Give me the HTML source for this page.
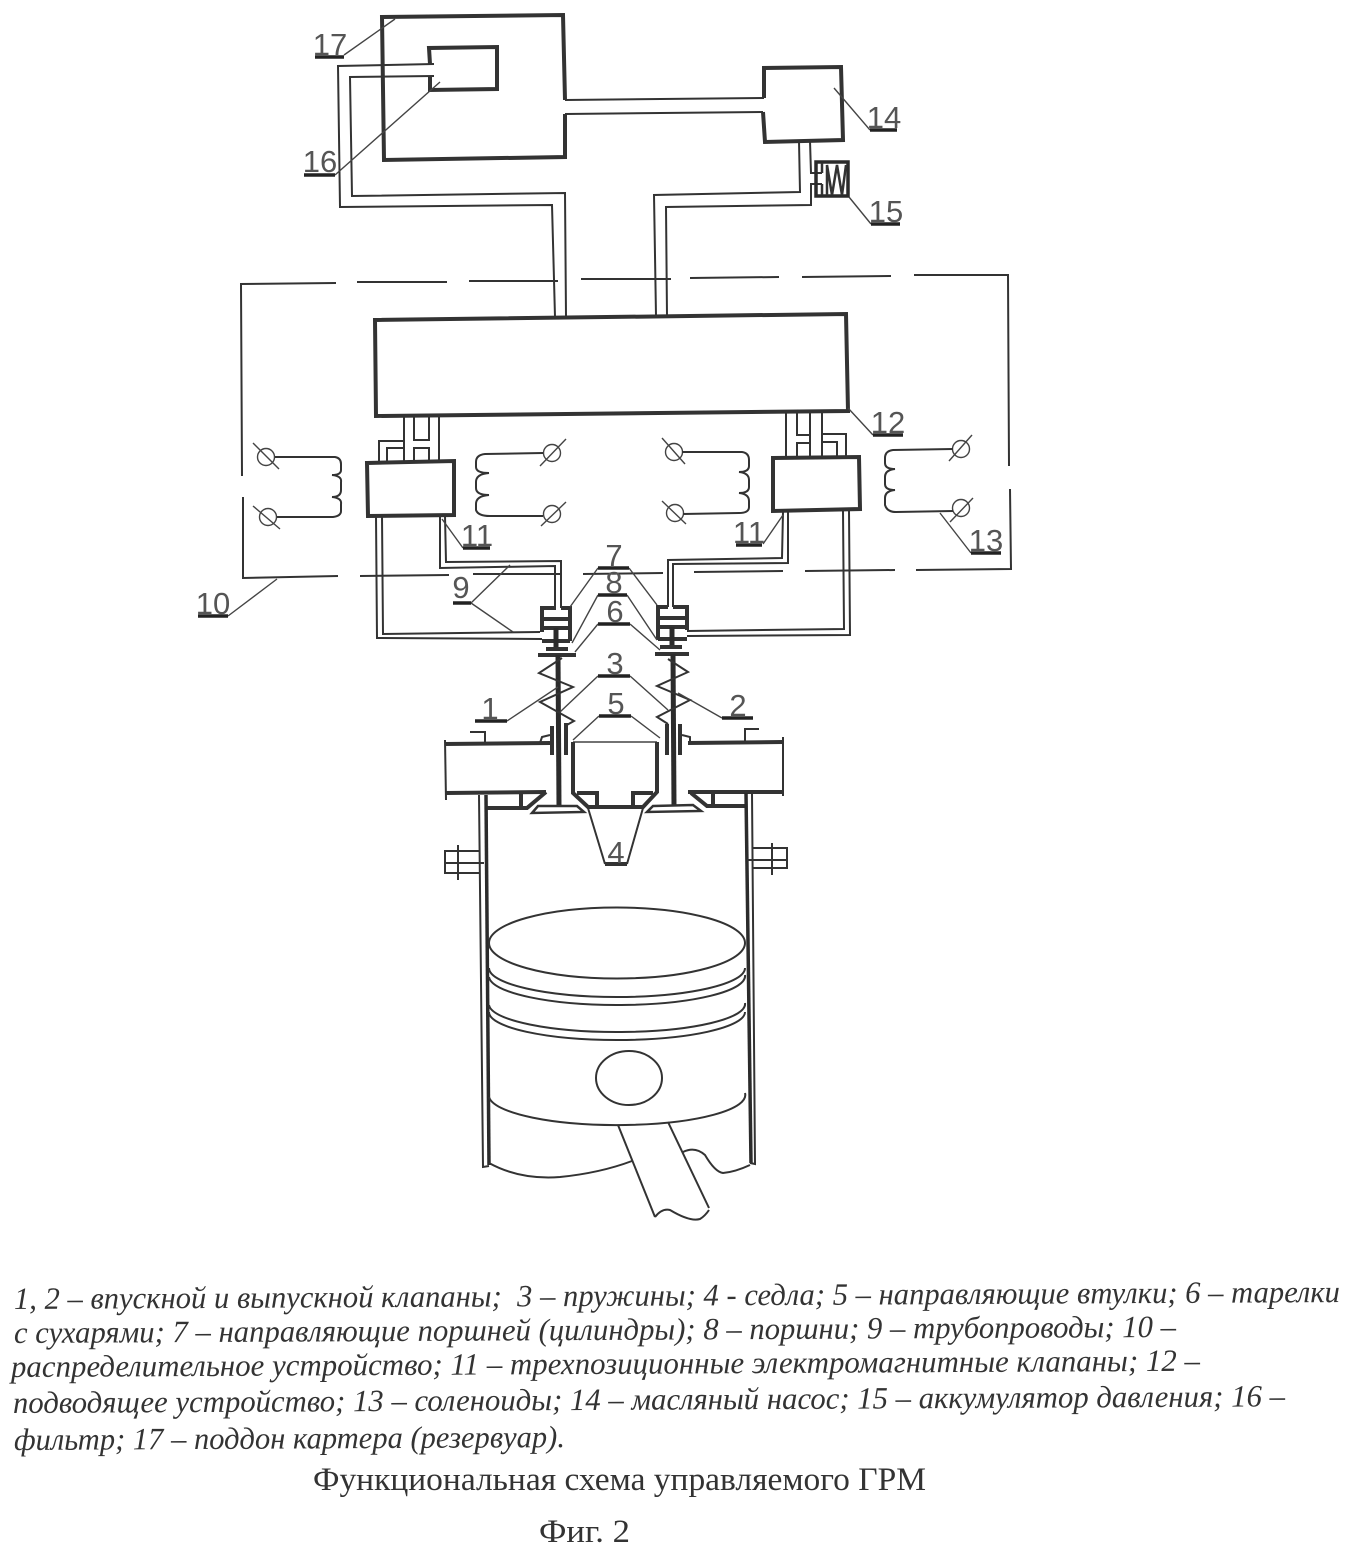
<!DOCTYPE html>
<html lang="ru"><head><meta charset="utf-8"><title>Функциональная схема управляемого ГРМ</title>
<style>
html,body{margin:0;padding:0;background:#fff;width:1352px;height:1555px;overflow:hidden}
svg{display:block}
.t{fill:none;stroke:#444;stroke-width:1.4}
.m{fill:none;stroke:#333;stroke-width:2}
.k{fill:none;stroke:#333;stroke-width:4}
.h{fill:none;stroke:#2b2b2b;stroke-width:5}
.u{fill:none;stroke:#222;stroke-width:3.5}
.n{font-family:"Liberation Sans",sans-serif;font-size:31px;fill:#555;text-anchor:middle;font-weight:normal}
.i{font-family:"Liberation Serif",serif;font-style:italic;font-size:31px;fill:#333}
.c{font-family:"Liberation Serif",serif;font-size:33px;fill:#333}
</style></head><body>
<svg width="1352" height="1555" viewBox="0 0 1352 1555" xmlns="http://www.w3.org/2000/svg">
<rect width="1352" height="1555" fill="#fff"/>

<!-- reservoir 17, filter 16, pump 14 -->
<polyline class="k" points="565,100 563,15 382,17 384,160 565,157 565,114"/>
<polyline class="k" points="430,64 429,48 497,47 497,89 430,90 430,76"/>
<polyline class="k" points="764,98 764,68 841,67 843,140 765,142 763,112"/>
<polyline class="m" points="565,100 764,98"/>
<polyline class="m" points="565,114 763,112"/>
<!-- suction pipe -->
<polyline class="m" points="434,64 338,66 340,207 552,205 555,317"/>
<polyline class="m" points="434,76 350,77 352,196 565,193 566,316"/>
<!-- pressure pipe -->
<polyline class="m" points="799,141 800,192 654,195 656,316"/>
<polyline class="m" points="810,141 811,173 822,173"/>
<polyline class="m" points="822,184 811,184 811,205 666,207 667,316"/>
<!-- accumulator 15 -->
<rect x="816" y="162" width="32" height="34" fill="none" stroke="#2b2b2b" stroke-width="3.5"/>
<polyline fill="none" stroke="#333" stroke-width="2.5" points="822,163 822,173"/>
<polyline fill="none" stroke="#333" stroke-width="2.5" points="822,184 822,195"/>
<polyline fill="none" stroke="#333" stroke-width="2.5" points="827,195 827,165 832,195 837,165 842,195 846,165"/>

<!-- dashed distributor 10 -->
<g class="m" fill="none">
<polyline class="m" points="336,283 241,284 242,476"/>
<polyline class="m" points="243,497 243,578 338,576"/>
<line class="m" x1="357" y1="282" x2="447" y2="282"/>
<line class="m" x1="469" y1="281" x2="558" y2="281"/>
<line class="m" x1="581" y1="279" x2="671" y2="279"/>
<line class="m" x1="690" y1="278" x2="779" y2="277"/>
<line class="m" x1="802" y1="277" x2="891" y2="276"/>
<polyline class="m" points="914,275 1008,275 1009,466"/>
<polyline class="m" points="1010,489 1011,569 916,570"/>
<line class="m" x1="895" y1="570" x2="805" y2="571"/>
<line class="m" x1="783" y1="571" x2="694" y2="572"/>
<line class="m" x1="663" y1="573" x2="583" y2="574"/>
<line class="m" x1="561" y1="574" x2="473" y2="574"/>
<line class="m" x1="449" y1="575" x2="360" y2="576"/>
</g>

<!-- box 12 -->
<polygon class="k" points="375,320 846,314 848,411 376,416"/>

<!-- left valve 11 and its pipes -->
<polygon class="k" points="367,463 454,461 454,515 368,516"/>
<polyline class="m" points="404,416 404,462"/>
<polyline class="m" points="414,416 414,440 429,440 429,416"/>
<polyline class="m" points="414,462 414,448 429,448 429,462"/>
<polyline class="m" points="439,416 439,462"/>
<polyline class="m" points="404,441 379,441 379,462"/>
<polyline class="m" points="404,448 387,448 387,462"/>
<polyline class="m" points="376,516 377,638 542,639"/>
<polyline class="m" points="382,516 383,634 540,632"/>
<polyline class="m" points="440,516 440,568 555,566 555,608"/>
<polyline class="m" points="445,516 446,562 561,561 561,608"/>

<!-- right valve 11 and its pipes -->
<polygon class="k" points="773,458 859,457 860,509 773,511"/>
<polyline class="m" points="786,413 786,457"/>
<polyline class="m" points="797,413 797,435 810,435"/>
<polyline class="m" points="797,457 797,443 810,443"/>
<polyline class="m" points="810,413 810,457"/>
<polyline class="m" points="822,412 822,457"/>
<polyline class="m" points="822,434 846,434 846,456"/>
<polyline class="m" points="822,442 837,442 837,456"/>
<polyline class="m" points="783,512 782,558 668,560 668,607"/>
<polyline class="m" points="788,512 788,563 673,564 673,607"/>
<polyline class="m" points="843,511 844,629 687,631"/>
<polyline class="m" points="849,511 850,635 687,636"/>

<!-- coils -->
<g>
<circle class="t" cx="266" cy="457" r="8.5"/><line class="t" x1="253" y1="443" x2="279" y2="469"/>
<circle class="t" cx="268" cy="517" r="8.5"/><line class="t" x1="253" y1="506" x2="280" y2="529"/>
<path class="m" d="M275,457 H335 Q341,458 341,464 V470 Q341,475 332,475 Q342,476 341,482 V490 Q341,497 332,497 Q342,498 341,504 V511 Q341,516 333,517 H277"/>
<circle class="t" cx="552" cy="453" r="8.5"/><line class="t" x1="566" y1="439" x2="540" y2="466"/>
<circle class="t" cx="552" cy="514" r="8.5"/><line class="t" x1="566" y1="502" x2="541" y2="526"/>
<path class="m" d="M543,453 L485,454 Q476,455 476,462 V467 Q476,473 489,473 Q476,474 476,482 V488 Q476,495 489,495 Q476,496 476,504 V510 Q478,516 490,516 H543"/>
<circle class="t" cx="674" cy="452" r="8.5"/><line class="t" x1="662" y1="438" x2="685" y2="464"/>
<circle class="t" cx="675" cy="513" r="8.5"/><line class="t" x1="662" y1="501" x2="686" y2="524"/>
<path class="m" d="M682,452 H742 Q749,453 749,460 V466 Q749,472 739,472 Q749,473 749,480 V487 Q749,493 739,493 Q749,494 749,501 V507 Q749,513 739,513 L683,514"/>
<circle class="t" cx="961" cy="449" r="8.5"/><line class="t" x1="972" y1="435" x2="949" y2="461"/>
<circle class="t" cx="961" cy="508" r="8.5"/><line class="t" x1="973" y1="498" x2="950" y2="522"/>
<path class="m" d="M953,449 L893,450 Q885,451 885,458 V463 Q885,469 895,469 Q885,470 885,477 V484 Q885,490 895,490 Q885,491 885,498 V505 Q887,512 896,512 L953,511"/>
</g>

<!-- left actuator -->
<polyline class="k" points="556,608 542,608 542,632"/>
<polyline class="k" points="561,608 570,608 570,641"/>
<line class="k" x1="542" y1="619" x2="570" y2="619"/>
<line class="k" x1="542" y1="628" x2="570" y2="628"/>
<line class="k" x1="542" y1="641" x2="570" y2="641"/>
<line class="h" x1="556" y1="628" x2="556" y2="650"/>
<line class="k" x1="546" y1="649" x2="568" y2="649"/>
<line class="k" x1="538" y1="655" x2="576" y2="655"/>
<line class="h" x1="558" y1="655" x2="559" y2="806"/>
<polyline class="m" points="562,658 539,673 573,687 540,702 574,721 565,726"/>
<!-- right actuator -->
<polyline class="k" points="668,607 658,607 658,640"/>
<polyline class="k" points="673,607 687,607 687,630"/>
<line class="k" x1="658" y1="618" x2="687" y2="618"/>
<line class="k" x1="658" y1="627" x2="687" y2="627"/>
<line class="k" x1="658" y1="639" x2="687" y2="639"/>
<line class="h" x1="672" y1="627" x2="672" y2="648"/>
<line class="k" x1="660" y1="647" x2="682" y2="647"/>
<line class="k" x1="655" y1="654" x2="689" y2="654"/>
<line class="h" x1="673" y1="654" x2="674" y2="806"/>
<polyline class="m" points="668,659 688,672 657,686 690,700 657,717 668,724"/>
<!-- guides -->
<line class="k" x1="552" y1="726" x2="552" y2="755"/>
<line class="k" x1="566" y1="723" x2="566" y2="755"/>
<line class="k" x1="667" y1="724" x2="667" y2="755"/>
<line class="k" x1="680" y1="724" x2="680" y2="755"/>
<polyline class="m" points="540,743 542,737 550,735"/>
<polyline class="m" points="682,735 690,737 690,742"/>

<!-- cylinder head left -->
<polyline class="k" points="550,743 445,744"/>
<line class="m" x1="445" y1="740" x2="446" y2="800"/>
<line class="k" x1="446" y1="793" x2="546" y2="792"/>
<polyline class="k" points="546,792 527,808 486,808"/>
<line class="k" x1="521" y1="793" x2="521" y2="808"/>
<polyline class="m" points="470,732 485,732 485,744"/>
<!-- cylinder head right -->
<line class="k" x1="688" y1="743" x2="783" y2="742"/>
<line class="m" x1="783" y1="737" x2="783" y2="796"/>
<line class="k" x1="688" y1="792" x2="783" y2="792"/>
<polyline class="k" points="691,793 707,806 745,806"/>
<line class="k" x1="713" y1="793" x2="713" y2="806"/>
<polyline class="m" points="759,729 745,729 745,742"/>
<!-- centre block -->
<line class="t" x1="573" y1="742" x2="657" y2="742"/>
<polyline class="k" points="573,742 573,793 588,807 643,807 657,792 657,742"/>
<polyline class="k" points="577,793 597,793 597,807"/>
<polyline class="k" points="633,807 633,793 653,793"/>
<!-- valve heads -->
<polygon points="538,806 577,806 584,812 532,813" fill="#fff" stroke="#333" stroke-width="2.5"/>
<polygon points="653,806 693,805 701,811 647,812" fill="#fff" stroke="#333" stroke-width="2.5"/>
<!-- seat 4 -->
<polyline class="m" points="588,808 605,864"/>
<polyline class="m" points="643,808 627,864"/>
<line class="k" x1="605" y1="864" x2="627" y2="864"/>

<!-- cylinder walls -->
<polyline fill="none" stroke="#2b2b2b" stroke-width="3.5" points="486,795 489,1165"/>
<polyline class="m" points="479,795 483,1167 489,1166"/>
<polyline fill="none" stroke="#2b2b2b" stroke-width="3.5" points="746,793 751,1163"/>
<polyline class="m" points="752,793 755,1164 750,1163"/>
<!-- flanges -->
<polyline class="m" points="479,851 445,851 445,873 479,873"/>
<line class="m" x1="445" y1="863" x2="484" y2="863"/>
<line class="m" x1="458" y1="845" x2="458" y2="880"/>
<polyline class="m" points="752,848 787,848 787,868 752,868"/>
<line class="m" x1="747" y1="860" x2="787" y2="860"/>
<line class="m" x1="772" y1="843" x2="772" y2="875"/>

<!-- piston -->
<ellipse class="m" cx="617" cy="943" rx="128" ry="35.5"/>
<path class="m" d="M489,968 A128,29 0 0 0 745,968"/>
<path class="m" d="M489,977 A128,29 0 0 0 745,975"/>
<path class="m" d="M489,1005 A128,28 0 0 0 745,1003"/>
<path class="m" d="M489,1012 A128,28 0 0 0 745,1012"/>
<path class="m" d="M489,1097 A128,30 0 0 0 745,1093"/>
<ellipse class="m" cx="629" cy="1078" rx="33" ry="27"/>
<polyline class="m" points="618,1125 655,1217"/>
<polyline class="m" points="668,1122 709,1208"/>
<path class="m" d="M655,1217 Q662,1208 670,1210 Q690,1222 700,1219 Q705,1216 709,1210"/>
<path class="m" d="M489,1163 Q520,1180 560,1177 Q600,1173 632,1161"/>
<path class="m" d="M683,1152 Q695,1146 705,1155 Q715,1172 723,1173 Q735,1172 750,1165"/>

<!-- leaders -->
<g class="t">
<line x1="344" y1="55" x2="395" y2="19"/>
<line x1="335" y1="175" x2="440" y2="82"/>
<line x1="870" y1="130" x2="834" y2="88"/>
<line x1="871" y1="224" x2="849" y2="197"/>
<line x1="228" y1="616" x2="277" y2="579"/>
<line x1="471" y1="603" x2="510" y2="565"/>
<line x1="471" y1="603" x2="513" y2="632"/>
<line x1="463" y1="548" x2="442" y2="519"/>
<line x1="763" y1="544" x2="783" y2="515"/>
<line x1="873" y1="435" x2="848" y2="408"/>
<line x1="971" y1="553" x2="940" y2="513"/>
<line x1="507" y1="721" x2="558" y2="687"/>
<line x1="722" y1="718" x2="678" y2="693"/>
<line x1="598" y1="676" x2="560" y2="712"/>
<line x1="630" y1="676" x2="668" y2="710"/>
<line x1="599" y1="716" x2="573" y2="740"/>
<line x1="631" y1="716" x2="660" y2="738"/>
<line x1="598" y1="624" x2="575" y2="652"/>
<line x1="630" y1="624" x2="660" y2="650"/>
<line x1="598" y1="595" x2="572" y2="643"/>
<line x1="627" y1="595" x2="657" y2="640"/>
<line x1="598" y1="568" x2="570" y2="607"/>
<line x1="629" y1="568" x2="657" y2="605"/>
</g>

<!-- label underlines -->
<g class="u">
<line x1="315" y1="57" x2="344" y2="57"/>
<line x1="304" y1="175" x2="335" y2="175"/>
<line x1="870" y1="130" x2="897" y2="130"/>
<line x1="871" y1="224" x2="900" y2="224"/>
<line x1="198" y1="616" x2="228" y2="616"/>
<line x1="453" y1="603" x2="471" y2="603"/>
<line x1="463" y1="548" x2="490" y2="548"/>
<line x1="736" y1="545" x2="762" y2="545"/>
<line x1="873" y1="435" x2="903" y2="435"/>
<line x1="971" y1="553" x2="1001" y2="553"/>
<line x1="475" y1="721" x2="507" y2="721"/>
<line x1="722" y1="718" x2="753" y2="718"/>
<line x1="598" y1="676" x2="630" y2="676"/>
<line x1="599" y1="716" x2="631" y2="716"/>
<line x1="598" y1="624" x2="630" y2="624"/>
<line x1="598" y1="595" x2="627" y2="595"/>
<line x1="598" y1="568" x2="629" y2="568"/>
</g>

<!-- numeric labels -->
<text class="n" x="330" y="55">17</text>
<text class="n" x="320" y="172">16</text>
<text class="n" x="884" y="128">14</text>
<text class="n" x="886" y="222">15</text>
<text class="n" x="213" y="614">10</text>
<text class="n" x="461" y="598">9</text>
<text class="n" x="477" y="546">11</text>
<text class="n" x="749" y="543">11</text>
<text class="n" x="888" y="433">12</text>
<text class="n" x="986" y="551">13</text>
<text class="n" x="490" y="719">1</text>
<text class="n" x="738" y="716">2</text>
<text class="n" x="615" y="674">3</text>
<text class="n" x="616" y="714">5</text>
<text class="n" x="615" y="622">6</text>
<text class="n" x="614" y="593">8</text>
<text class="n" x="614" y="566">7</text>
<text class="n" x="616" y="863">4</text>

<!-- caption -->
<g transform="rotate(-0.3 14 1309)">
<text class="i" x="14" y="1309" textLength="1326" lengthAdjust="spacingAndGlyphs" xml:space="preserve">1, 2 – впускной и выпускной клапаны;  3 – пружины; 4 - седла; 5 – направляющие втулки; 6 – тарелки</text>
</g>
<g transform="rotate(-0.3 14 1343)">
<text class="i" x="14" y="1343" textLength="1162" lengthAdjust="spacingAndGlyphs">с сухарями; 7 – направляющие поршней (цилиндры); 8 – поршни; 9 – трубопроводы; 10 –</text>
</g>
<g transform="rotate(-0.3 11 1377)">
<text class="i" x="11" y="1377" textLength="1189" lengthAdjust="spacingAndGlyphs">распределительное устройство; 11 – трехпозиционные электромагнитные клапаны; 12 –</text>
</g>
<g transform="rotate(-0.3 13 1413)">
<text class="i" x="13" y="1413" textLength="1272" lengthAdjust="spacingAndGlyphs">подводящее устройство; 13 – соленоиды; 14 – масляный насос; 15 – аккумулятор давления; 16 –</text>
</g>
<g transform="rotate(-0.3 14 1450)">
<text class="i" x="14" y="1450" textLength="551" lengthAdjust="spacingAndGlyphs">фильтр; 17 – поддон картера (резервуар).</text>
</g>
<text class="c" x="313" y="1490" textLength="613" lengthAdjust="spacingAndGlyphs">Функциональная схема управляемого ГРМ</text>
<text class="c" x="539" y="1542" textLength="91" lengthAdjust="spacingAndGlyphs">Фиг. 2</text>
</svg>
</body></html>
